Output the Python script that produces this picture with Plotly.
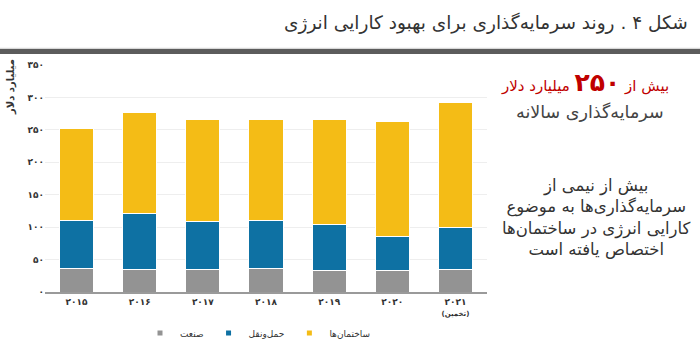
import plotly.graph_objects as go

# Investment in energy efficiency, billion USD
years = ["۲۰۱۵", "۲۰۱۶", "۲۰۱۷", "۲۰۱۸", "۲۰۱۹", "۲۰۲۰", "۲۰۲۱<br><span style='font-size:7px'>(تخمین)</span>"]
industry = [35.5, 35, 35, 36, 33.5, 33.5, 35]
transport = [74.5, 86, 73.5, 74, 71, 52, 65]
buildings = [142, 155, 157, 156.5, 161, 178, 192]

y_ticks = [0, 50, 100, 150, 200, 250, 300, 350]
y_tick_labels = ["۰", "۵۰", "۱۰۰", "۱۵۰", "۲۰۰", "۲۵۰", "۳۰۰", "۳۵۰"]

names = ["صنعت", "حمل‌ونقل", "ساختمان‌ها"]
colors = ["#939393", "#0E71A3", "#F4BC16"]
series = [industry, transport, buildings]

FONT = "DejaVu Sans, Noto Sans, sans-serif"

fig = go.Figure()
for name, color, vals in zip(names, colors, series):
    fig.add_trace(go.Bar(
        x=years, y=vals, name=name, showlegend=False,
        marker=dict(color=color, line=dict(color="white", width=1)),
    ))
# small square legend keys
for name, color in zip(names, colors):
    fig.add_trace(go.Scatter(
        x=[None], y=[None], mode="markers", name=name,
        marker=dict(symbol="square", size=5, color=color),
    ))

fig.update_layout(
    width=700, height=348,
    margin=dict(l=45, r=213, t=65, b=56, autoexpand=False),
    barmode="stack", bargap=0.46,
    plot_bgcolor="white", paper_bgcolor="white",
    font=dict(family=FONT, size=8, color="#333333"),
    showlegend=True,
    legend=dict(orientation="h", xref="container", yref="container",
                x=140 / 700, xanchor="left", y=(348 - 333) / 348, yanchor="middle",
                font=dict(size=9, color="#333333"), itemsizing="trace",
                traceorder="normal", bgcolor="rgba(0,0,0,0)"),
    xaxis=dict(showgrid=False, showline=True, linecolor="#9a9a9a", linewidth=1.5,
               ticks="", automargin=False,
               tickfont=dict(size=9, color="#333333", weight="bold")),
    yaxis=dict(range=[0, 350], tickvals=y_ticks, ticktext=y_tick_labels,
               showgrid=True, gridcolor="#eeeeee", gridwidth=1, zeroline=False,
               showline=False, ticks="", automargin=False,
               tickfont=dict(size=9, color="#333333", weight="bold")),
)

W = 442.0
H = 227.0
def px_x(x):
    return (x - 45) / W
def px_y(y):
    return (292 - y) / H

# header rule
fig.add_shape(type="rect", xref="paper", yref="paper",
              x0=px_x(0), x1=px_x(700), y0=px_y(54), y1=px_y(49),
              fillcolor="#5c5c5c", line=dict(width=0), layer="above")
fig.add_shape(type="line", xref="paper", yref="paper",
              x0=px_x(0), x1=px_x(700), y0=px_y(48.3), y1=px_y(48.3),
              line=dict(color="#cfcfcf", width=1))

annotations = [
    dict(text="شکل ۴ . روند سرمایه‌گذاری برای بهبود کارایی انرژی",
         x=px_x(690), y=px_y(23), xanchor="right", yanchor="middle",
         font=dict(size=18.5, color="#333333")),
    dict(text="میلیارد دلار", textangle=-90,
         x=px_x(11), y=px_y(87), xanchor="center", yanchor="middle",
         font=dict(size=10, color="#333333", weight="bold")),
    dict(text="بیش از <b><span style='font-size:25px'>۲۵۰</span></b> میلیارد دلار",
         x=px_x(585), y=px_y(83), xanchor="center", yanchor="middle",
         font=dict(size=15, color="#C00000")),
    dict(text="سرمایه‌گذاری سالانه",
         x=px_x(590), y=px_y(112), xanchor="center", yanchor="middle",
         font=dict(size=17.5, color="#444444")),
    dict(text="بیش از نیمی از<br>سرمایه‌گذاری‌ها به موضوع<br>کارایی انرژی در ساختمان‌ها<br>اختصاص یافته است",
         x=px_x(596), y=px_y(217), xanchor="center", yanchor="middle", align="center",
         font=dict(size=16.5, color="#333333")),
]
for a in annotations:
    fig.add_annotation(xref="paper", yref="paper", showarrow=False, **a)

fig.write_html("out.html")
